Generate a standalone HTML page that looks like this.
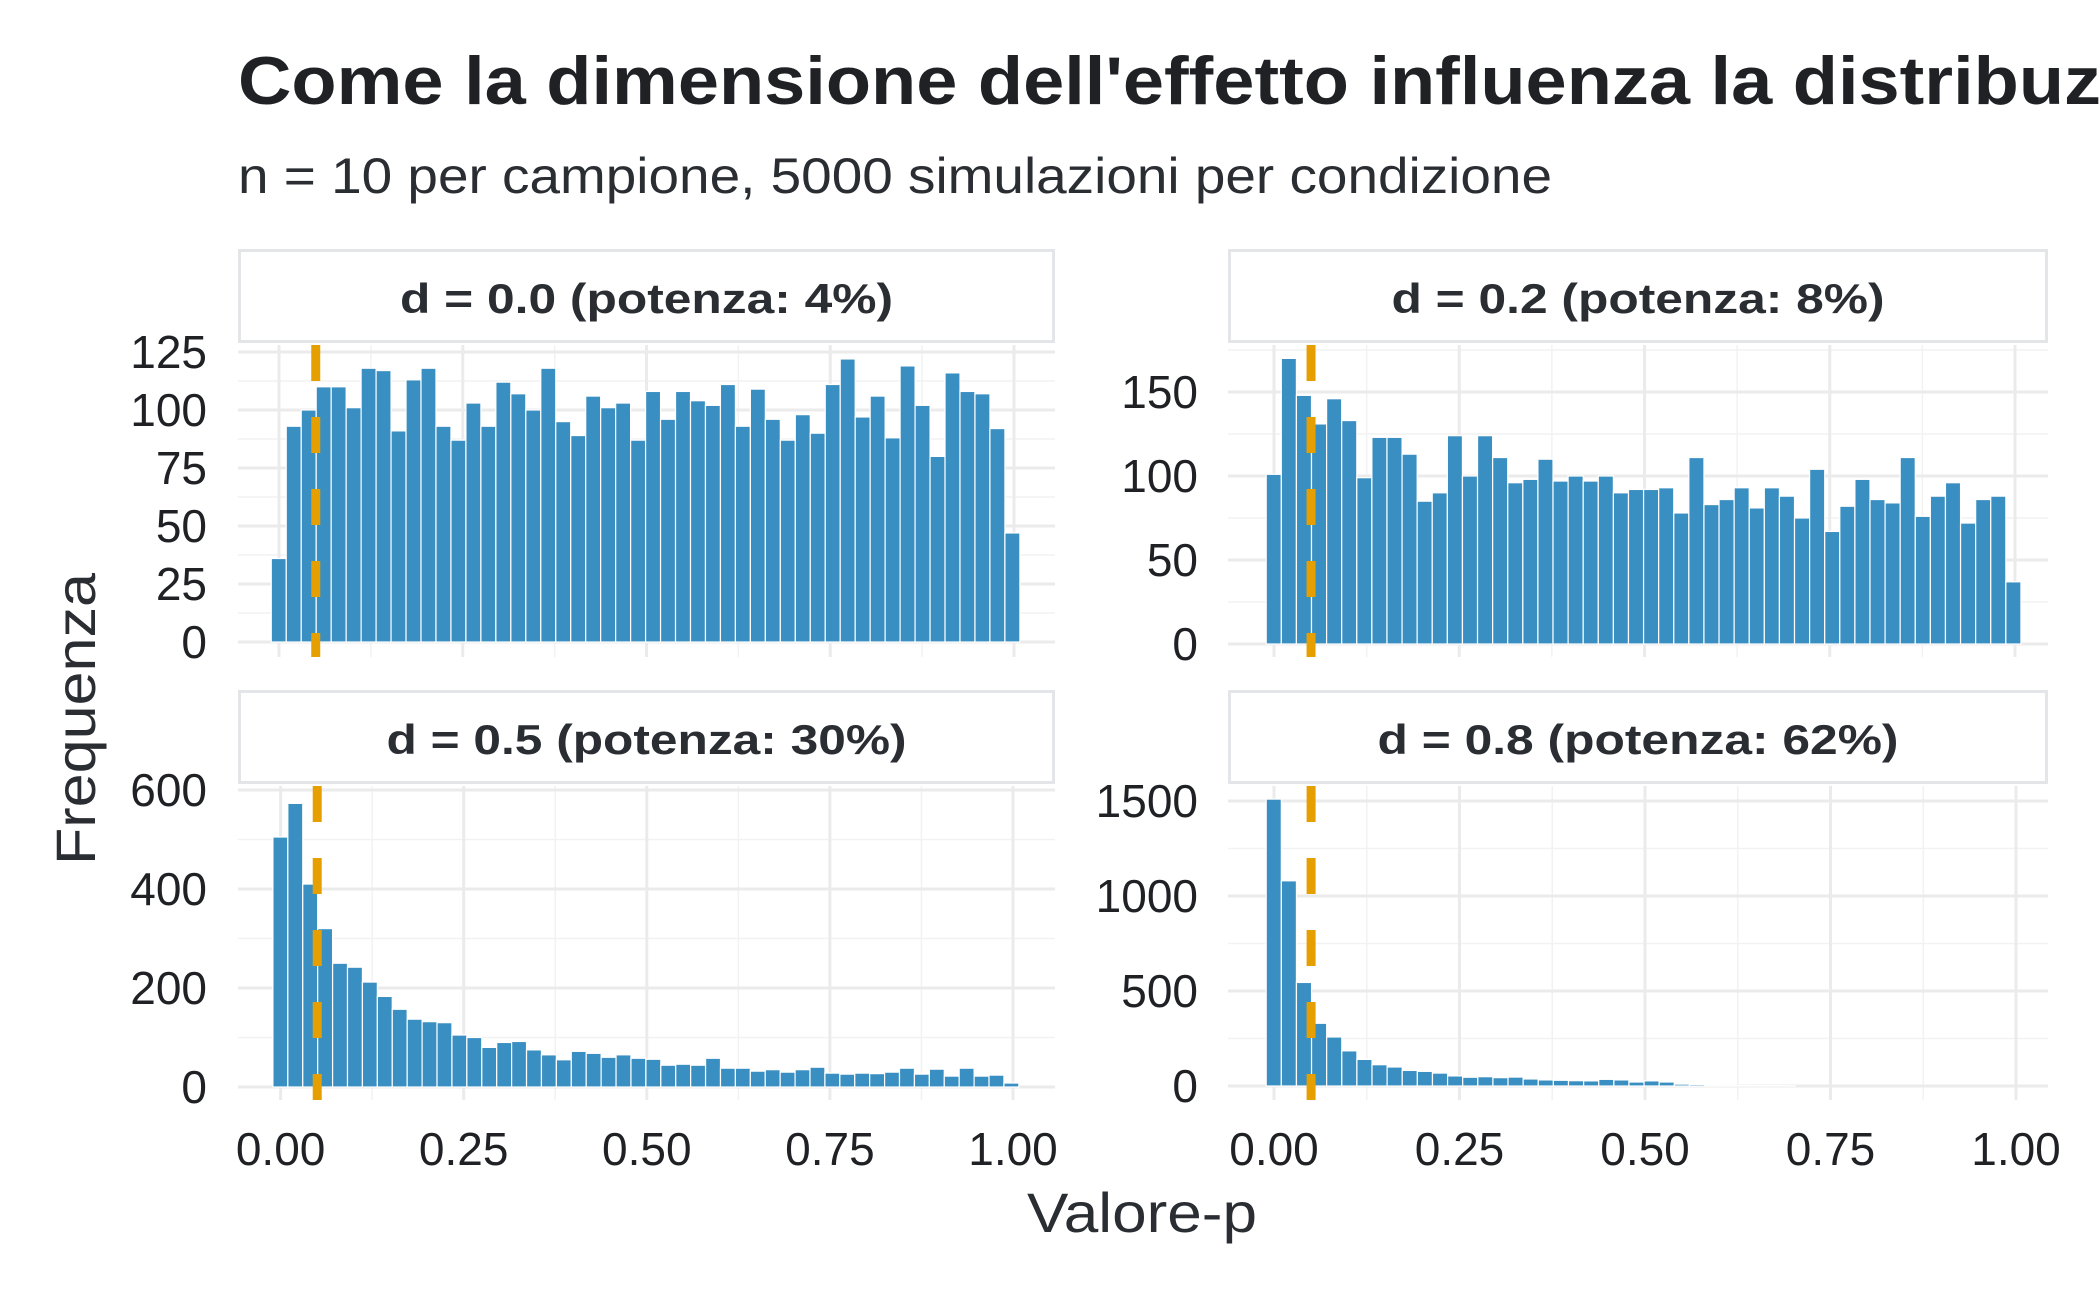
<!DOCTYPE html>
<html><head><meta charset="utf-8"><style>
html,body{margin:0;padding:0;background:#fff;}
svg{display:block;}
text{font-family:"Liberation Sans",Arial,sans-serif;}
</style></head><body>
<svg id="s" width="2100" height="1297" viewBox="0 0 2100 1297" xmlns="http://www.w3.org/2000/svg">
<rect width="2100" height="1297" fill="#fff"/>
<text x="238" y="104" font-size="68" font-weight="bold" fill="#1f2125"><tspan textLength="1863" lengthAdjust="spacingAndGlyphs">Come la dimensione dell'effetto influenza la distribuz</tspan>ione dei valori-p</text>
<text x="238" y="193" font-size="50" fill="#2a2e33" textLength="1314" lengthAdjust="spacingAndGlyphs">n = 10 per campione, 5000 simulazioni per condizione</text>
<text x="1142" y="1232" font-size="56" fill="#2a2e33" text-anchor="middle" textLength="230" lengthAdjust="spacingAndGlyphs">Valore-p</text>
<text transform="translate(95,719) rotate(-90)" font-size="56" fill="#2a2e33" text-anchor="middle" textLength="292" lengthAdjust="spacingAndGlyphs">Frequenza</text>
<g id="g"></g>
</svg>
<script>
var NS="http://www.w3.org/2000/svg",g=document.getElementById('g');
function el(t,a,txt){var e=document.createElementNS(NS,t);for(var k in a)e.setAttribute(k,a[k]);if(txt!=null)e.textContent=txt;g.appendChild(e);return e;}
var panels=[
{l:238,r:1055,st:249,sb:343,pt:345,pb:657,x0:279,x1:1014,y0:642,ys:(642-352)/125,ticks:[0,25,50,75,100,125],minor:[12.5,37.5,62.5,87.5,112.5,137.5],lab:"d = 0.0 (potenza: 4%)",lw:493,tx:207,
d:[36,93,100,110,110,101,118,117,91,113,118,93,87,103,93,112,107,100,118,95,89,106,101,103,87,108,96,108,104,102,111,93,109,96,87,98,90,111,122,97,106,88,119,102,80,116,108,107,92,47]},
{l:1228,r:2048,st:249,sb:343,pt:345,pb:657,x0:1274,x1:2015,y0:644,ys:(644-392)/150,ticks:[0,50,100,150],minor:[25,75,125,175],lab:"d = 0.2 (potenza: 8%)",lw:493,tx:1198,
d:[101,170,148,131,146,133,99,123,123,113,85,90,124,100,124,111,96,98,110,97,100,97,100,90,92,92,93,78,111,83,86,93,81,93,88,75,104,67,82,98,86,84,111,76,88,96,72,86,88,37]},
{l:238,r:1055,st:690,sb:784,pt:786,pb:1100,x0:280.6,x1:1013,y0:1087,ys:(1087-790)/600,ticks:[0,200,400,600],minor:[100,300,500],lab:"d = 0.5 (potenza: 30%)",lw:520,tx:207,
d:[505,573,410,320,250,242,212,183,157,137,132,130,105,100,80,90,92,75,65,55,72,68,60,65,58,56,44,46,44,58,38,38,32,35,30,35,40,28,26,28,27,30,38,26,36,22,38,22,24,8]},
{l:1228,r:2048,st:690,sb:784,pt:786,pb:1100,x0:1274,x1:2016,y0:1086,ys:0.19,ticks:[0,500,1000,1500],minor:[250,750,1250],lab:"d = 0.8 (potenza: 62%)",lw:521,tx:1198,
d:[1510,1080,545,330,258,185,140,112,100,82,77,68,53,46,49,44,47,37,32,30,28,27,35,32,21,27,21,10,8,6,4,3,2,2,1,0,0,0,0,0,0,0,0,0,0,0,0,0,0,0]}
];
panels.forEach(function(p){
 var X=function(v){return p.x0+(p.x1-p.x0)*v;},Y=function(v){return p.y0-v*p.ys;};
 p.minor.forEach(function(v){var y=Y(v);if(y>p.pt)el('line',{x1:p.l,x2:p.r,y1:y,y2:y,stroke:'#f2f2f2','stroke-width':1.5});});
 [0.125,0.375,0.625,0.875].forEach(function(v){el('line',{x1:X(v),x2:X(v),y1:p.pt,y2:p.pb,stroke:'#f2f2f2','stroke-width':1.5});});
 p.ticks.forEach(function(v){var y=Y(v);el('line',{x1:p.l,x2:p.r,y1:y,y2:y,stroke:'#ebebeb','stroke-width':3});
  el('text',{x:p.tx,y:y+16,'font-size':46,fill:'#1f2125','text-anchor':'end'},String(v));});
 [0,0.25,0.5,0.75,1].forEach(function(v){el('line',{x1:X(v),x2:X(v),y1:p.pt,y2:p.pb,stroke:'#ebebeb','stroke-width':3});});
 var n=p.d.length,bw=(X(1.008)-X(-0.0105))/n,bx=X(-0.0105);
 p.d.forEach(function(v,i){if(v<=0)return;var h=v*p.ys;el('rect',{x:bx+i*bw,y:p.y0-h,width:bw,height:h,fill:'#3a8fc2',stroke:'#fff','stroke-width':1.2});});
 el('line',{x1:X(0.05),x2:X(0.05),y1:p.pt,y2:p.pb,stroke:'#e69f00','stroke-width':9,'stroke-dasharray':'36 36'});
 el('rect',{x:p.l+1.5,y:p.st+1.5,width:p.r-p.l-3,height:p.sb-p.st-3,fill:'#fff',stroke:'#e3e5e8','stroke-width':3});
 el('text',{x:(p.l+p.r)/2,y:p.st+64,'font-size':42,'font-weight':'bold',fill:'#2a2e33','text-anchor':'middle',textLength:p.lw,lengthAdjust:'spacingAndGlyphs'},p.lab);
 if(p.st>600){[0,0.25,0.5,0.75,1].forEach(function(v){el('text',{x:X(v),y:1165,'font-size':46,fill:'#1f2125','text-anchor':'middle'},v.toFixed(2));});}
});
</script>
</body></html>
